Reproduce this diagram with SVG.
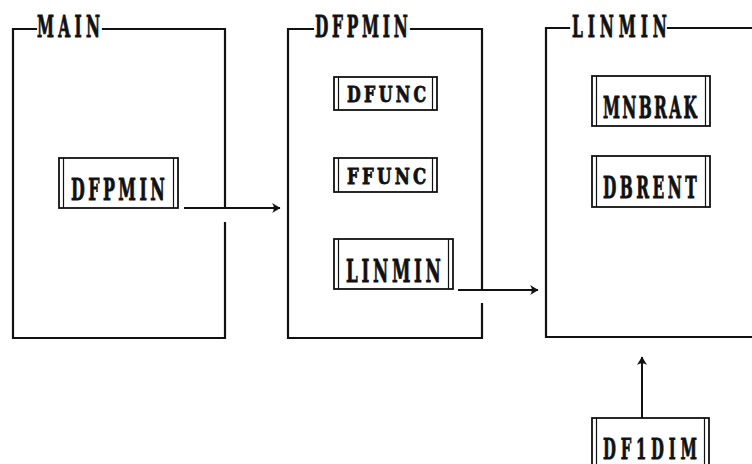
<svg xmlns="http://www.w3.org/2000/svg" width="752" height="464" viewBox="0 0 752 464">
<defs>
<style>
.frame{fill:none;stroke:#111;stroke-width:2.2;stroke-linecap:square}
.box{fill:#fff;stroke:#111;stroke-width:1.8}
.bar{stroke:#111;stroke-width:1.2}
.t{font-family:"DejaVu Serif","Liberation Serif",serif;font-weight:bold;fill:#111;stroke:#111;stroke-width:0.9}
.conn{fill:none;stroke:#111;stroke-width:2}
</style>
<marker id="ah" viewBox="0 0 8 10" refX="7" refY="5" markerWidth="9" markerHeight="12" markerUnits="userSpaceOnUse" orient="auto">
<path d="M0,0.5 Q4,3 7.5,5 Q4,7 0,9.5 Q3,5 0,0.5 Z" fill="#111"/>
</marker>
</defs>
<rect width="752" height="464" fill="#fff"/>

<g id="MAIN">
<path class="frame" d="M36,29 H13 V338 H225 V223 M225,208 V29 H103"/>
<text class="t" transform="translate(37,37) scale(0.53,1)" font-size="29" textLength="119" lengthAdjust="spacing">MAIN</text>
</g>
<g id="MAIN-DFPMIN">
<rect class="box" x="59" y="158" width="119" height="50"/>
<line class="bar" x1="63.5" y1="158" x2="63.5" y2="208"/>
<line class="bar" x1="173.5" y1="158" x2="173.5" y2="208"/>
<text class="t" transform="translate(71,200) scale(0.53,1)" font-size="30" textLength="177" lengthAdjust="spacing">DFPMIN</text>
</g>

<g id="DFPMIN">
<path class="frame" d="M313,29 H288 V338 H482 V304 M482,290 V29 H411"/>
<text class="t" transform="translate(315,37) scale(0.53,1)" font-size="29" textLength="175" lengthAdjust="spacing">DFPMIN</text>
</g>
<g id="DFUNC">
<rect class="box" x="334" y="77" width="103" height="33"/>
<line class="bar" x1="338.5" y1="77" x2="338.5" y2="110"/>
<line class="bar" x1="432.5" y1="77" x2="432.5" y2="110"/>
<text class="t" transform="translate(347,102) scale(0.72,1)" font-size="22" textLength="110" lengthAdjust="spacing">DFUNC</text>
</g>
<g id="FFUNC">
<rect class="box" x="334" y="158" width="103" height="34"/>
<line class="bar" x1="338.5" y1="158" x2="338.5" y2="192"/>
<line class="bar" x1="432.5" y1="158" x2="432.5" y2="192"/>
<text class="t" transform="translate(347,184) scale(0.72,1)" font-size="23" textLength="110" lengthAdjust="spacing">FFUNC</text>
</g>
<g id="DFPMIN-LINMIN">
<rect class="box" x="334" y="239" width="119" height="50"/>
<line class="bar" x1="338.5" y1="239" x2="338.5" y2="289"/>
<line class="bar" x1="448.5" y1="239" x2="448.5" y2="289"/>
<text class="t" transform="translate(346,282) scale(0.53,1)" font-size="31.5" textLength="179" lengthAdjust="spacing">LINMIN</text>
</g>

<g id="LINMIN">
<path class="frame" d="M569,28 H546 V337 H760 M760,28 H668"/>
<text class="t" transform="translate(572,37) scale(0.53,1)" font-size="29" textLength="179" lengthAdjust="spacing">LINMIN</text>
</g>
<g id="MNBRAK">
<rect class="box" x="592" y="76" width="118" height="50"/>
<line class="bar" x1="596.5" y1="76" x2="596.5" y2="126"/>
<line class="bar" x1="705.5" y1="76" x2="705.5" y2="126"/>
<text class="t" transform="translate(603,118) scale(0.53,1)" font-size="29" textLength="177" lengthAdjust="spacing">MNBRAK</text>
</g>
<g id="DBRENT">
<rect class="box" x="592" y="156" width="118" height="51"/>
<line class="bar" x1="596.5" y1="156" x2="596.5" y2="207"/>
<line class="bar" x1="705.5" y1="156" x2="705.5" y2="207"/>
<text class="t" transform="translate(603,198) scale(0.53,1)" font-size="29" textLength="177" lengthAdjust="spacing">DBRENT</text>
</g>
<g id="DF1DIM">
<rect class="box" x="592" y="418" width="117" height="56"/>
<line class="bar" x1="596.5" y1="418" x2="596.5" y2="474"/>
<line class="bar" x1="704.5" y1="418" x2="704.5" y2="474"/>
<text class="t" transform="translate(603,459) scale(0.53,1)" font-size="28" textLength="177" lengthAdjust="spacing">DF1DIM</text>
</g>

<g id="connectors">
<line class="conn" x1="184" y1="208" x2="280" y2="208" marker-end="url(#ah)"/>
<line class="conn" x1="458" y1="290" x2="538" y2="290" marker-end="url(#ah)"/>
<line class="conn" x1="642" y1="418" x2="642" y2="357" marker-end="url(#ah)"/>
</g>
</svg>
